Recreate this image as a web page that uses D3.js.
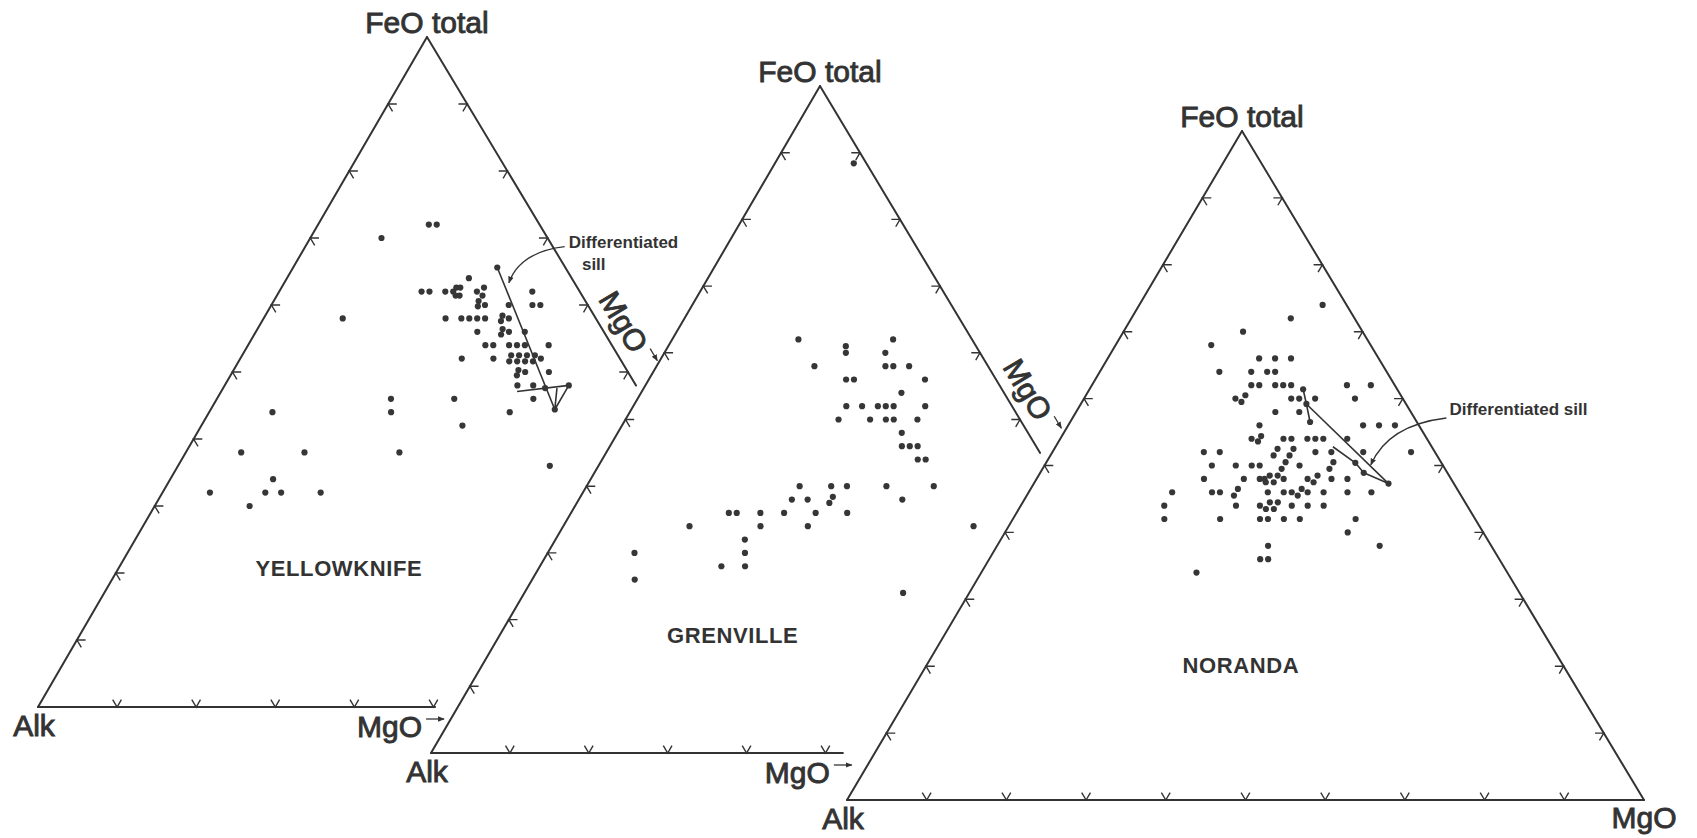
<!DOCTYPE html>
<html>
<head>
<meta charset="utf-8">
<script src="https://cdn.jsdelivr.net/npm/d3@7/dist/d3.min.js"></script>
<style>
  html, body { margin: 0; padding: 0; background: #ffffff; }
  svg { display: block; }
  text { font-family: "Liberation Sans", Arial, sans-serif; fill: #333; }
</style>
</head>
<body>
<svg id="chart" width="1697" height="838"></svg>
<script>
// AFM compositions, each sample as [FeO total %, MgO %]; Alk = 100 - FeO - MgO.
const yellowknifeSamples = [
  [72,14],[72,15],[70,9],[64,23],
  [62,18],[62,19],[62,21],[62,22],[62.6,22.1],[61.4,22.6],[62.6,22.6],[61.4,23.1],[62,25],[62.6,25.6],[61.4,26],[62,32],
  [60.6,25.9],[59.8,26.2],[60,27],[60,30],[60,33],[60,34],
  [58,10],[58,23],[58,25],[58,26],[58,27],[58,28],[58.4,30],[57.6,30.2],[58,31],
  [56,28],[56.4,31],[55.6,31.2],[56,32],[56,34],
  [54,30],[54,31],[54,33],[54,34],[54,35],[54,38],
  [52,28],[52,32],[52.5,34],[51.6,34.2],[52.5,35],[51.6,35.2],[52.5,36],[51.6,36.2],[52.5,37],[51.6,37.2],[52,38],
  [50.3,36],[49.5,36.2],[50,37],[50,40],
  [48,37],[48,39],[47.6,40.7],
  [46,22],[46,30],[46,40],
  [44,8],[44,23],[44,38],
  [42,33],
  [38,7],[38,15],[38,27],
  [36,47],[34,13],
  [32,6],[32,13],[32,15],[32,20],
  [30,12]
];
const yellowknifeSillPaths = [
  [[65.6,25.8],[44.4,43.5]],
  [[47.1,37.4],[48,43.5],[44.4,43.5],[47.6,42.2]]
];
const yellowknifeSillDots = [[65.6,25.8],[48,43.5],[44.4,43.5]];

const grenvilleSamples = [
  [88.4,10],
  [62,16],[62,28],
  [61,22.5],[60,23],[60,28],
  [58,20],[58,29],[58,30],[58,32],
  [56,25],[56,26],[56,35],
  [54,33],
  [52,27],[52,29],[52,31],[52,32],[52,33],[52,37],
  [50,27],[50,31],[50,33],[50,34],[50,37],
  [48,36],
  [46,37],[46,38],[46,39],
  [44,40],[44,41],
  [40,27],[40,31],[40,33],[40,38],[40,44],
  [38,27],[38,29],[38.4,32],[37.5,32],[38,41],
  [36,20],[36,21],[36,24],[36,27],[36,31],[36,35],
  [34,16],[34,25],[34,31],[34,52],
  [32,24],[30,11],[30,25],[28,23],[28,26],[26,13],[24,48]
];

const norandaSamples = [
  [74,23],[72,20],[70,15],[68,12],
  [66,19],[66,21],[66,23],
  [64,15],[64,19],[64,21],[64,22],
  [62,20],[62,21],[62,23],[62,24],[62,25],[62,32],[62,35],
  [60,19],[60.5,20],[59.5,20],[60,26],[60,27],[60,29],[60,34],
  [58,25],[58,28],
  [56,24],[56,37],[56,39],[56,41],
  [54,24],[54.4,25],[53.6,25],[54,28],[54,29],[54,31],[54,32],[54,33],[54,36],
  [52,19],[52,21],[52.5,28],[51.5,28],[52.5,30],[51.5,30],[52,33],[52,35],[52,39],[52,45],
  [50,21],[50,24],[50,26],[50,27],[50.5,30],[49.5,30],[50,32],[50.5,36],[49.5,36],
  [48,21],[48,26],[48,28],[48,28.6],[48.5,29],[47.5,29],[48.5,30],[47.5,30],[48,31],[48,34],[48.5,35],[47.5,35],[48,37],[48,39],
  [46,18],[46,23],[46,24],[46.5,26],[45.5,26],[46,30],[46,32],[46,33],[46.5,34],[45.5,34],[46,35],[46,37],[46,40],[46,43],
  [44,18],[44,27],[44,30],[44.5,31],[43.5,31],[44.5,32],[43.5,32],[44,34],[44,36],[44,38],
  [42,19],[42,26],[42,31],[42,32],[42,34],[42,36],[42,43],
  [40,43],
  [38,34],[38,48],
  [36,34],[36,35],
  [34,27]
];
const norandaSillPaths = [
  [[61.4,26.8],[59.2,28.3],[56.5,30.1]],
  [[59.2,28.3],[47.3,44.5]],
  [[52.8,34.8],[50.4,38.8],[48.9,40.6],[47.3,44.5]]
];
const norandaSillDots = [[61.4,26.8],[59.2,28.3],[56.5,30.1],[50.4,38.8],[48.9,40.6],[47.3,44.5]];

const panelNames = ["YELLOWKNIFE", "GRENVILLE", "NORANDA"];
const apexLabel = "FeO total";
const alkLabel = "Alk";
const mgoLabel = "MgO";
const noteText = ["Differentiated", "sill"];
const tickSteps = d3.range(10, 100, 10);

// Page layout of the three overlapping diagrams (pixel corners, visible edge extents in %).
const panels = [
  { name: panelNames[0], samples: yellowknifeSamples, sill: yellowknifeSillPaths, sillDots: yellowknifeSillDots,
    corners: { feo: [427, 37], alk: [38, 707], mgo: [829, 707] },
    baseEnd: 50.2, rightEnd: 52, nameAt: [19.6, 28.4],
    note: { lines: noteText, at: [[68.5, 33.4], [65.2, 36.7]], curve: [[68.7, 32.8], [67.9, 27.5], [63.3, 28.4]] } },
  { name: panelNames[1], samples: grenvilleSamples, sill: [], sillDots: [],
    corners: { feo: [820, 86], alk: [431, 753], mgo: [1220, 753] },
    baseEnd: 52.2, rightEnd: 55, nameAt: [16.5, 30.1], note: null },
  { name: panelNames[2], samples: norandaSamples, sill: norandaSillPaths, sillDots: norandaSillDots,
    corners: { feo: [1242, 131], alk: [847, 800], mgo: [1644, 800] },
    baseEnd: 100, rightEnd: 100, nameAt: [19, 40],
    note: { lines: [noteText.join(" ")], at: [[57.5, 47.1]], curve: [[57.1, 46.9], [56.05, 40.1], [50.1, 40.9]] } }
];

const INK = "#333";
const svg = d3.select("#chart");

const defs = svg.append("defs");
defs.append("marker")
  .attr("id", "head")
  .attr("viewBox", "0 0 10 10")
  .attr("refX", 9).attr("refY", 5)
  .attr("markerWidth", 7).attr("markerHeight", 7)
  .attr("markerUnits", "userSpaceOnUse")
  .attr("orient", "auto")
  .append("path").attr("d", "M0,1 L10,5 L0,9 Z").attr("fill", INK);

// Ternary projection built from linear scales: FeO sets the height,
// the left/right edges set the row span, MgO sets the position along it.
function makeTernary(c) {
  const y = d3.scaleLinear().domain([0, 100]).range([c.alk[1], c.feo[1]]);
  const xLeft = d3.scaleLinear().domain([0, 100]).range([c.alk[0], c.feo[0]]);
  const xRight = d3.scaleLinear().domain([0, 100]).range([c.mgo[0], c.feo[0]]);
  return (feo, mgo) => {
    const l = xLeft(feo), r = xRight(feo), span = 100 - feo;
    const x = span > 0 ? d3.scaleLinear().domain([0, span]).range([l, r])(mgo) : l;
    return [x, y(feo)];
  };
}

const line = d3.line();
const axisFont = 30;

panels.forEach(p => {
  const proj = makeTernary(p.corners);
  const g = svg.append("g");
  const edge = g.append("g").attr("fill", "none").attr("stroke", INK).attr("stroke-width", 2).attr("stroke-linecap", "round");

  // triangle edges (partly hidden where the next diagram overlaps)
  edge.append("path").attr("d", line([proj(0, 0), proj(100, 0)]));
  edge.append("path").attr("d", line([proj(0, 0), proj(0, p.baseEnd)]));
  edge.append("path").attr("d", line([proj(100, 0), proj(100 - p.rightEnd, p.rightEnd)]));

  // chevron ticks every 10 %, arms along the two inward grid directions
  const d = 1.1;
  const ticks = [];
  tickSteps.forEach(f => ticks.push([proj(f, d), proj(f, 0), proj(f - d, d)]));
  tickSteps.filter(m => m <= p.baseEnd + 0.01).forEach(m => ticks.push([proj(d, m), proj(0, m), proj(d, m - d)]));
  tickSteps.filter(f => 100 - f <= p.rightEnd + 0.01).forEach(f => ticks.push([proj(f, 100 - f - d), proj(f, 100 - f), proj(f - d, 100 - f)]));
  g.append("g").attr("fill", "none").attr("stroke", INK).attr("stroke-width", 1.4)
    .selectAll("path").data(ticks).join("path").attr("d", t => line(t));

  // corner labels
  const apex = proj(100, 0), alk = proj(0, 0);
  const lab = g.append("g").attr("font-size", axisFont).attr("stroke", INK).attr("stroke-width", 0.9);
  lab.append("text").attr("x", apex[0]).attr("y", apex[1] - 4).attr("text-anchor", "middle").text(apexLabel);
  lab.append("text").attr("x", alk[0] - 4).attr("y", alk[1] + 29).attr("text-anchor", "middle").text(alkLabel);

  if (p.baseEnd >= 100) {
    const m = proj(0, 100);
    lab.append("text").attr("x", m[0]).attr("y", m[1] + 28).attr("text-anchor", "middle").text(mgoLabel);
  } else {
    const end = proj(0, p.baseEnd);
    const tx = end[0] - 13;
    lab.append("text").attr("x", tx).attr("y", end[1] + 30).attr("text-anchor", "end").text(mgoLabel);
    g.append("line").attr("x1", tx + 4).attr("x2", tx + 22)
      .attr("y1", end[1] + 12).attr("y2", end[1] + 12)
      .attr("stroke", INK).attr("stroke-width", 1.3).attr("marker-end", "url(#head)");
  }

  if (p.rightEnd < 100) {
    const R = proj(0, 100);
    const vx = R[0] - apex[0], vy = R[1] - apex[1];
    const L = Math.hypot(vx, vy);
    const ux = vx / L, uy = vy / L, nx = uy, ny = -ux;
    const tEnd = p.rightEnd / 100;
    const at = (t, off) => [apex[0] + ux * L * t + nx * off, apex[1] + uy * L * t + ny * off];
    const c = at(tEnd - 0.078, 22);
    const ang = Math.atan2(uy, ux) * 180 / Math.PI;
    lab.append("text")
      .attr("transform", `translate(${c[0]},${c[1]}) rotate(${ang})`)
      .attr("text-anchor", "middle").attr("dominant-baseline", "central")
      .text(mgoLabel);
    const a0 = at(tEnd - 0.031, 31), a1 = at(tEnd - 0.013, 31);
    g.append("line").attr("x1", a0[0]).attr("y1", a0[1]).attr("x2", a1[0]).attr("y2", a1[1])
      .attr("stroke", INK).attr("stroke-width", 1.3).attr("marker-end", "url(#head)");
  }

  // diagram name
  const np = proj(p.nameAt[0], p.nameAt[1]);
  g.append("text").attr("x", np[0]).attr("y", np[1]).attr("text-anchor", "middle")
    .attr("font-size", 22).attr("font-weight", "bold").attr("letter-spacing", 0.6).text(p.name);

  // differentiated sill trend
  g.append("g").attr("fill", "none").attr("stroke", INK).attr("stroke-width", 1.6).attr("stroke-linejoin", "round")
    .selectAll("path").data(p.sill).join("path")
    .attr("d", s => line(s.map(v => proj(v[0], v[1]))));

  // samples
  g.append("g").attr("fill", "#363636")
    .selectAll("circle").data(p.samples.concat(p.sillDots)).join("circle")
    .attr("cx", v => proj(v[0], v[1])[0])
    .attr("cy", v => proj(v[0], v[1])[1])
    .attr("r", 3.1);

  // annotation
  if (p.note) {
    p.note.lines.forEach((t, i) => {
      const q = proj(p.note.at[i][0], p.note.at[i][1]);
      g.append("text").attr("x", q[0]).attr("y", q[1]).attr("font-size", 17).attr("font-weight", "bold").text(t);
    });
    const c = p.note.curve.map(v => proj(v[0], v[1]));
    g.append("path")
      .attr("d", `M${c[0][0]},${c[0][1]} Q${c[1][0]},${c[1][1]} ${c[2][0]},${c[2][1]}`)
      .attr("fill", "none").attr("stroke", INK).attr("stroke-width", 1.3)
      .attr("marker-end", "url(#head)");
  }
});
</script>
</body>
</html>
